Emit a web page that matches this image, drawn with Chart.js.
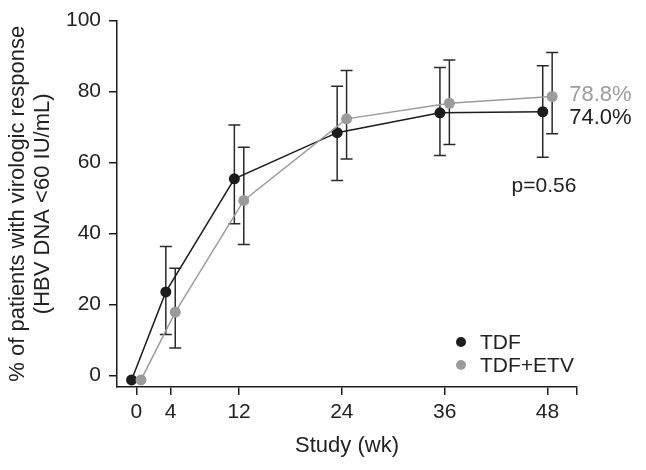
<!DOCTYPE html>
<html>
<head>
<meta charset="utf-8">
<script src="https://cdn.jsdelivr.net/npm/chart.js@4.4.1/dist/chart.umd.min.js"></script>
<style>
  html, body { margin: 0; padding: 0; background: #ffffff; }
  #wrap { width: 646px; height: 470px; }
</style>
</head>
<body>
<div id="wrap"><canvas id="c" width="646" height="470"></canvas></div>
<script>
// ---- data ----
const weeks = [0, 4, 12, 24, 36, 48];
const seriesNames = ['TDF', 'TDF+ETV'];
const tdfValues = [-1.3, 23.5, 55.4, 68.4, 74.0, 74.3];
const etvValues = [-1.3, 17.8, 49.3, 72.3, 76.7, 78.6];
const tdfErrHigh = [null, 36.3, 70.6, 81.5, 86.8, 87.3];
const tdfErrLow  = [null, 11.5, 42.7, 54.9, 62.0, 61.5];
const etvErrHigh = [null, 30.2, 64.3, 85.9, 88.9, 91.0];
const etvErrLow  = [null, 7.7, 36.9, 61.0, 65.1, 68.1];
const yTicks = [0, 20, 40, 60, 80, 100];
const endLabels = ['74.0%', '78.8%'];
const pValueText = 'p=0.56';
const xTitle = 'Study (wk)';
const yTitle = ['% of patients with virologic response', '(HBV DNA <60 IU/mL)'];

// ---- style ----
const FONT = "'Liberation Sans', Arial, Helvetica, sans-serif";
const DARK = '#1c1c1c';
const GRAY = '#9b9b9b';
const TEXT = '#222222';
const DODGE = [-0.55, 0.55];
const X_MIN = -2.25, X_MAX = 51.45, Y_MIN = -3.3, Y_MAX = 100;

const errHigh = [tdfErrHigh, etvErrHigh];
const errLow = [tdfErrLow, etvErrLow];
const values = [tdfValues, etvValues];
const colors = [DARK, GRAY];

function points(vals, dodge) {
  return weeks.map((w, i) => ({ x: w + dodge, y: vals[i] }));
}

const errorBarPlugin = {
  id: 'errorBars',
  beforeDatasetsDraw(chart) {
    const { ctx, scales: { x, y } } = chart;
    ctx.save();
    ctx.strokeStyle = '#2a2a2a';
    ctx.lineWidth = 1.5;
    for (let s = 0; s < 2; s++) {
      weeks.forEach((w, i) => {
        const hi = errHigh[s][i], lo = errLow[s][i];
        if (hi == null || lo == null) return;
        const px = x.getPixelForValue(w + DODGE[s]);
        const y1 = y.getPixelForValue(hi), y2 = y.getPixelForValue(lo);
        ctx.beginPath();
        ctx.moveTo(px, y1); ctx.lineTo(px, y2);
        ctx.moveTo(px - 6, y1); ctx.lineTo(px + 6, y1);
        ctx.moveTo(px - 6, y2); ctx.lineTo(px + 6, y2);
        ctx.stroke();
      });
    }
    ctx.restore();
  }
};

const annotationPlugin = {
  id: 'annotations',
  afterDraw(chart) {
    const { ctx, scales: { x, y } } = chart;
    ctx.save();
    ctx.textBaseline = 'middle';
    // end labels
    ctx.font = '22px ' + FONT;
    const last = weeks.length - 1;
    const lx = x.getPixelForValue(weeks[last] + DODGE[1]) + 17;
    const yOff = [6, -2];
    for (let s = 0; s < 2; s++) {
      ctx.fillStyle = s === 0 ? TEXT : GRAY;
      ctx.textAlign = 'left';
      ctx.fillText(endLabels[s], lx, y.getPixelForValue(values[s][last]) + yOff[s]);
    }
    // p value
    ctx.font = '21px ' + FONT;
    ctx.fillStyle = TEXT;
    ctx.textAlign = 'center';
    ctx.fillText(pValueText, x.getPixelForValue(47.6), y.getPixelForValue(53.2));
    // legend
    const legX = 461, legY = [342, 365];
    for (let s = 0; s < 2; s++) {
      ctx.fillStyle = colors[s];
      ctx.beginPath();
      ctx.arc(legX, legY[s], 5, 0, Math.PI * 2);
      ctx.fill();
      ctx.fillStyle = TEXT;
      ctx.textAlign = 'left';
      ctx.fillText(seriesNames[s], legX + 19, legY[s] + 1);
    }
    ctx.restore();
  }
};

new Chart(document.getElementById('c'), {
  type: 'scatter',
  data: {
    datasets: [0, 1].map(s => ({
      label: seriesNames[s],
      data: points(values[s], DODGE[s]),
      showLine: true,
      borderColor: colors[s],
      borderWidth: 1.5,
      backgroundColor: colors[s],
      pointBackgroundColor: colors[s],
      pointBorderWidth: 0,
      pointRadius: 5.5,
      tension: 0,
      order: s === 0 ? 2 : 1
    }))
  },
  options: {
    responsive: false,
    animation: false,
    devicePixelRatio: 1,
    layout: { padding: { top: 20, right: 69, left: 0, bottom: 0 } },
    plugins: { legend: { display: false }, tooltip: { enabled: false } },
    scales: {
      x: {
        type: 'linear',
        min: X_MIN, max: X_MAX,
        afterBuildTicks(scale) {
          scale.ticks = weeks.map(v => ({ value: v })).concat([{ value: X_MAX }]);
        },
        afterFit(scale) { scale.height = 83; },
        ticks: {
          autoSkip: false, maxRotation: 0, padding: 5,
          color: TEXT, font: { family: FONT, size: 21 },
          callback: v => (v === X_MAX ? '' : String(v))
        },
        grid: { drawOnChartArea: false, drawTicks: true, tickLength: 8, color: DARK, lineWidth: 1.5 },
        border: { display: true, color: DARK, width: 1.5 },
        title: { display: true, text: xTitle, color: TEXT, font: { family: FONT, size: 22 }, padding: { top: 0, bottom: 11 } }
      },
      y: {
        min: Y_MIN, max: Y_MAX,
        afterBuildTicks(scale) {
          scale.ticks = yTicks.map(v => ({ value: v }));
        },
        afterFit(scale) { scale.width = 117; },
        ticks: { padding: 8, color: TEXT, font: { family: FONT, size: 21 } },
        grid: { drawOnChartArea: false, drawTicks: true, tickLength: 8, color: DARK, lineWidth: 1.5 },
        border: { display: true, color: DARK, width: 1.5 },
        title: { display: true, text: yTitle, color: TEXT, font: { family: FONT, size: 22, lineHeight: 1.12 }, padding: { top: 6, bottom: 0 } }
      }
    }
  },
  plugins: [errorBarPlugin, annotationPlugin]
});
</script>
</body>
</html>
